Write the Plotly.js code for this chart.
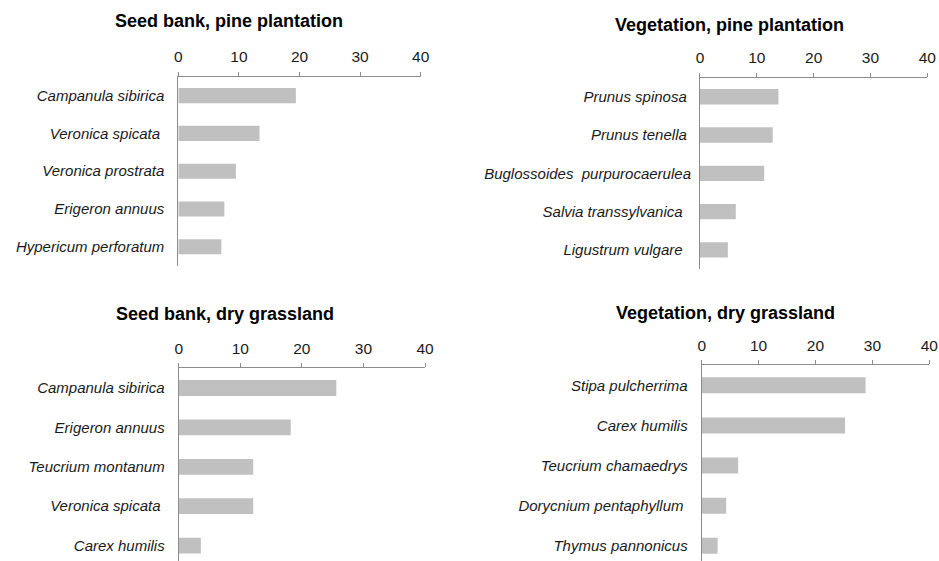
<!DOCTYPE html>
<html>
<head>
<meta charset="utf-8">
<script src="https://cdn.plot.ly/plotly-3.0.1.min.js"></script>
<style>html,body{margin:0;padding:0;background:#fff;}#chart{width:939px;height:561px;}</style>
</head>
<body>
<div id="chart"></div>
<script>
// Panel titles
const titles = ["Seed bank, pine plantation", "Vegetation, pine plantation", "Seed bank, dry grassland", "Vegetation, dry grassland"];
// Tick values for the x axes
const xTicks = [0, 10, 20, 30, 40];

// Seed bank, pine plantation
const sbPineSpecies = ["Campanula sibirica", "Veronica spicata\u00a0", "Veronica prostrata", "Erigeron annuus", "Hypericum perforatum"];
const sbPineValues = [19.4, 13.4, 9.5, 7.6, 7.1];

// Vegetation, pine plantation
const vegPineSpecies = ["Prunus spinosa\u00a0", "Prunus tenella\u00a0", "Buglossoides\u00a0 purpurocaerulea", "Salvia transsylvanica\u00a0\u00a0", "Ligustrum vulgare\u00a0\u00a0"];
const vegPineValues = [13.8, 12.8, 11.3, 6.3, 4.9];

// Seed bank, dry grassland
const sbDrySpecies = ["Campanula sibirica", "Erigeron annuus", "Teucrium montanum", "Veronica spicata\u00a0", "Carex humilis"];
const sbDryValues = [25.6, 18.2, 12.1, 12.1, 3.6];

// Vegetation, dry grassland
const vegDrySpecies = ["Stipa pulcherrima", "Carex humilis", "Teucrium chamaedrys", "Dorycnium pentaphyllum\u00a0", "Thymus pannonicus"];
const vegDryValues = [28.8, 25.2, 6.4, 4.3, 2.8];

const FONT = "Liberation Sans, Arial, sans-serif";
const BAR = "#c0c0c0";
const AX = "#8c8c8c";

function bar(species, values, n) {
  return {
    type: "bar", orientation: "h",
    x: values, y: species,
    xaxis: n === 1 ? "x" : "x" + n,
    yaxis: n === 1 ? "y" : "y" + n,
    width: 0.4,
    marker: {color: BAR, line: {width: 0}},
    hoverinfo: "x+y", showlegend: false
  };
}

function xax(domain, anchor) {
  return {
    domain: domain, anchor: anchor, side: "top",
    range: [0, 40], tickvals: xTicks, ticktext: xTicks.map(String),
    showline: true, linecolor: AX, linewidth: 1,
    ticks: "outside", ticklen: 4, tickcolor: AX, tickwidth: 1,
    ticklabelstandoff: 3,
    showgrid: false, zeroline: false, fixedrange: true,
    tickfont: {family: FONT, size: 15.5, color: "#1a1a1a"}
  };
}
function yax(domain, anchor, range, standoff) {
  return {
    domain: domain, anchor: anchor, type: "category",
    range: range, autorange: false,
    showline: true, linecolor: AX, linewidth: 1,
    ticks: "", showgrid: false, zeroline: false, fixedrange: true,
    ticklabelstandoff: standoff,
    tickfont: {family: FONT, size: 15, color: "#1a1a1a", style: "italic"}
  };
}

const data = [
  bar(sbPineSpecies, sbPineValues, 1),
  bar(vegPineSpecies, vegPineValues, 2),
  bar(sbDrySpecies, sbDryValues, 3),
  bar(vegDrySpecies, vegDryValues, 4)
];

function ttl(text, x, y) {
  return {text: text, xref: "paper", yref: "paper", x: x, y: y,
    xanchor: "center", yanchor: "middle", showarrow: false,
    font: {family: FONT, size: 18, color: "#000", weight: "bold"}};
}

const layout = {
  width: 939, height: 561,
  margin: {l: 0, r: 0, t: 0, b: 0},
  paper_bgcolor: "#fff", plot_bgcolor: "#fff",
  font: {family: FONT},
  xaxis: xax([0.18989, 0.44803], "y"),
  yaxis: yax([0.52638, 0.86328], "x", [4.5, -0.5], 10),
  xaxis2: xax([0.74547, 0.98754], "y2"),
  yaxis2: yax([0.5205, 0.8617], "x2", [4.5, -0.5], 5),
  xaxis3: xax([0.19031, 0.45261], "y3"),
  yaxis3: yax([0.0, 0.34349], "x3", [4.39, -0.5], 10),
  xaxis4: xax([0.74728, 0.98967], "y4"),
  yaxis4: yax([0.0, 0.34884], "x4", [4.38, -0.5], 10),
  annotations: [
    ttl(titles[0], 0.2439, 0.9631),
    ttl(titles[1], 0.7764, 0.9554),
    ttl(titles[2], 0.2396, 0.4398),
    ttl(titles[3], 0.7724, 0.4426)
  ]
};

Plotly.newPlot("chart", data, layout, {displayModeBar: false, staticPlot: true});
</script>
</body>
</html>
